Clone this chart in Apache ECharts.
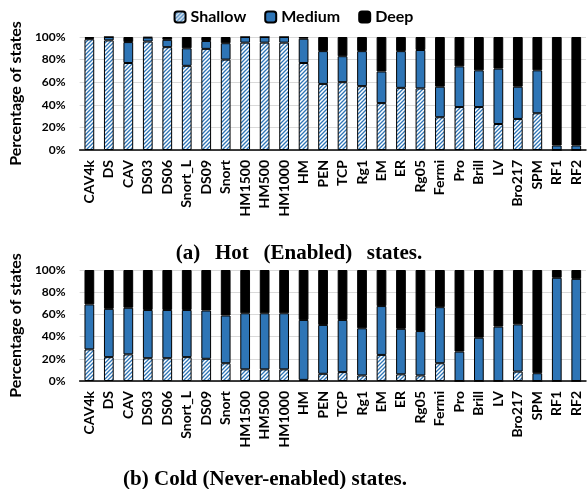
<!DOCTYPE html>
<html><head><meta charset="utf-8">
<script src="https://cdn.jsdelivr.net/npm/echarts@6/dist/echarts.min.js"></script>
<style>html,body{margin:0;padding:0;background:#fff}#c{width:587px;height:489px}</style>
</head><body><div id="c"></div>
<script>
const categories = ["CAV4k","DS","CAV","DS03","DS06","Snort_L","DS09","Snort","HM1500","HM500","HM1000","HM","PEN","TCP","Rg1","EM","ER","Rg05","Fermi","Pro","Brill","LV","Bro217","SPM","RF1","RF2"];
const yTicks = [0,20,40,60,80,100];
// Hot (Enabled) states
const hotShallow = [98,97,77,96,91,74.5,89.5,80,95,95,95,77,58.5,60,56.5,41.5,55,54.5,29,38,38,23,27.5,32.5,0,0];
const hotMedium  = [1,3,18.5,3.5,6.5,15.5,7,14.5,5,5,5,21.5,29,23,31,28,32.5,34,27,36,32.5,49,28.5,38,4,4];
const hotDeep    = [1,0,4.5,0.5,2.5,10,3.5,5.5,0,0,0,1.5,12.5,17,12.5,30.5,12.5,11.5,44,26,29.5,28,44,29.5,96,96];
// Cold (Never-enabled) states
const coldShallow = [28.5,21.5,24,20.5,20.5,21.5,20,16,10.5,10.5,10.5,1,6.5,8,5,23.5,6,5,16,0,0,0,8.5,0,0,0];
const coldMedium  = [40.5,43.5,42,43.5,43.5,42.5,43.5,43,50.5,50.5,50.5,54,44,47,42.5,44,41,40,50.5,26.5,39,49,42.5,7,93,92];
const coldDeep    = [31,35,34,36,36,36,36.5,41,39,39,39,45,49.5,45,52.5,32.5,53,55,33.5,73.5,61,51,49,93,7,8];

const font = 'Lato, "DejaVu Sans", sans-serif';
const serif = '"Liberation Serif", "DejaVu Serif", serif';
const blue = '#2E75B6';
function hatch(){
  const c = document.createElement('canvas');
  c.width = 4; c.height = 4;
  const g = c.getContext('2d');
  g.fillStyle = '#fff'; g.fillRect(0,0,4,4);
  g.strokeStyle = blue; g.lineWidth = 1.3;
  g.beginPath();
  g.moveTo(-1,5); g.lineTo(5,-1);
  g.moveTo(-1,1); g.lineTo(1,-1);
  g.moveTo(3,5); g.lineTo(5,3);
  g.stroke();
  return {image: c, repeat: 'repeat'};
}
const hatchFill = hatch();
const chart = echarts.init(document.getElementById('c'), null, {renderer:'canvas'});

function xAxis(i){
  return {type:'category', gridIndex:i, data:categories,
    axisLine:{lineStyle:{color:'#000', width:1.5}}, axisTick:{show:false},
    axisLabel:{rotate:90, interval:0, color:'#000', fontWeight:'bold', fontSize:14, fontFamily:font, margin:10}};
}
function yAxis(i, gap){
  return {type:'value', gridIndex:i, min:0, max:100, interval:20,
    name:'Percentage of states', nameLocation:'middle', nameGap:gap,
    nameTextStyle:{color:'#000', fontWeight:'bold', fontSize:16, fontFamily:font},
    axisLine:{show:false}, axisTick:{show:false},
    splitLine:{lineStyle:{color:'#d9d9d9', width:1}},
    axisLabel:{formatter: v => yTicks.includes(v) ? v + '%' : '', color:'#000', fontWeight:'bold', fontSize:12, fontFamily:font, margin:14}};
}
function ser(name, data, idx, fill){
  return {name, type:'bar', stack:'s'+idx, xAxisIndex:idx, yAxisIndex:idx, data,
    barWidth:'50%', itemStyle:{color:fill, borderColor:'#000', borderWidth:1}};
}
const sp = '\u2002\u2009';
chart.setOption({
  animation:false,
  legend:{top:4, left:'center', itemWidth:11, itemHeight:11, itemGap:18,
    textStyle:{fontWeight:'bold', fontSize:16, fontFamily:font, color:'#000'},
    data:['Shallow','Medium','Deep']},
  title:[
    {text:'(a)'+sp+'Hot'+sp+'(Enabled)'+sp+'states.', left:294, textAlign:'center', top:238,
     textStyle:{fontFamily:serif, fontWeight:'bold', fontSize:21, color:'#000'}},
    {text:'(b) Cold (Never-enabled) states.', left:260, textAlign:'center', top:464,
     textStyle:{fontFamily:serif, fontWeight:'bold', fontSize:21, color:'#000'}}
  ],
  grid:[
    {left:69, top:37, right:1, height:113},
    {left:67, top:270, right:1, height:111}
  ],
  xAxis:[xAxis(0), xAxis(1)],
  yAxis:[yAxis(0, 53), yAxis(1, 51)],
  series:[
    ser('Shallow', hotShallow, 0, hatchFill),
    ser('Medium', hotMedium, 0, blue),
    ser('Deep', hotDeep, 0, '#000'),
    ser('Shallow', coldShallow, 1, hatchFill),
    ser('Medium', coldMedium, 1, blue),
    ser('Deep', coldDeep, 1, '#000')
  ]
});
</script></body></html>
